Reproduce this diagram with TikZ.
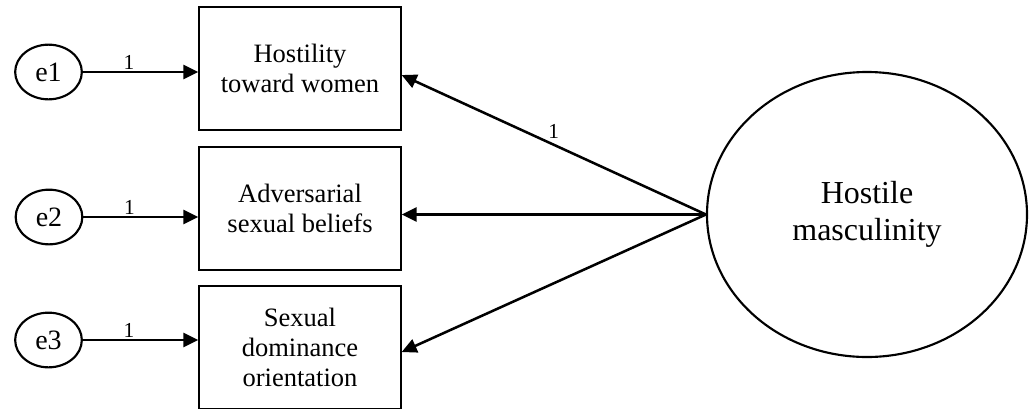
\documentclass[tikz,border=0pt]{standalone}
\usepackage{fontspec}
\setmainfont{Liberation Serif}
\usetikzlibrary{arrows.meta,shapes.geometric}

\tikzset{
  indicator/.style={draw, line width=1pt, rectangle, inner sep=0pt,
    minimum width=151.5pt, minimum height=92.25pt, align=center,
    font=\fontsize{19.9pt}{22.5pt}\selectfont},
  errterm/.style={draw, line width=1.6pt, ellipse, inner sep=0pt,
    minimum width=50pt, minimum height=41pt,
    font=\fontsize{21pt}{24pt}\selectfont},
  latent/.style={draw, line width=1.6pt, ellipse, inner sep=0pt,
    minimum width=240pt, minimum height=213.75pt, align=center,
    font=\fontsize{24pt}{27.75pt}\selectfont},
  path/.style={line width=1.9pt, -{Triangle[length=11.25pt,width=10.5pt]}},
  weight/.style={font=\fontsize{16pt}{18pt}\selectfont, inner sep=1pt}
}

\begin{document}
\begin{tikzpicture}[x=0.75pt,y=-0.75pt]
  \useasboundingbox (0,0) rectangle (1031,408);
  \clip (0,0) rectangle (1031,408);

  % observed indicators
  \node[indicator] (h1) at (300,68.5) {Hostility\\toward women};
  \node[indicator] (h2) at (300,208.5) {Adversarial\\sexual beliefs};
  \node[indicator] (h3) at (300,347.5) {Sexual\\dominance\\orientation};

  % error terms
  \node[errterm] (e1) at (48.5,72) {e1};
  \node[errterm] (e2) at (49,217) {e2};
  \node[errterm] (e3) at (48.5,340) {e3};

  % latent factor
  \node[latent] (hm) at (867,214.5) {Hostile\\masculinity};

  % error paths
  \draw[path] (e1.east) -- (e1.east -| h1.west)
    node[weight, pos=0.4, above] {1};
  \draw[path] (e2.east) -- (e2.east -| h2.west)
    node[weight, pos=0.4, above] {1};
  \draw[path] (e3.east) -- (e3.east -| h3.west)
    node[weight, pos=0.4, above] {1};

  % factor loadings
  \draw[path] (hm.west) -- ([yshift=-4.9pt]h1.east)
    node[weight, pos=0.5, above=3pt] {1};
  \draw[path] (hm.west) -- (hm.west -| h2.east);
  \draw[path] (hm.west) -- ([yshift=-3.4pt]h3.east);
\end{tikzpicture}
\end{document}
